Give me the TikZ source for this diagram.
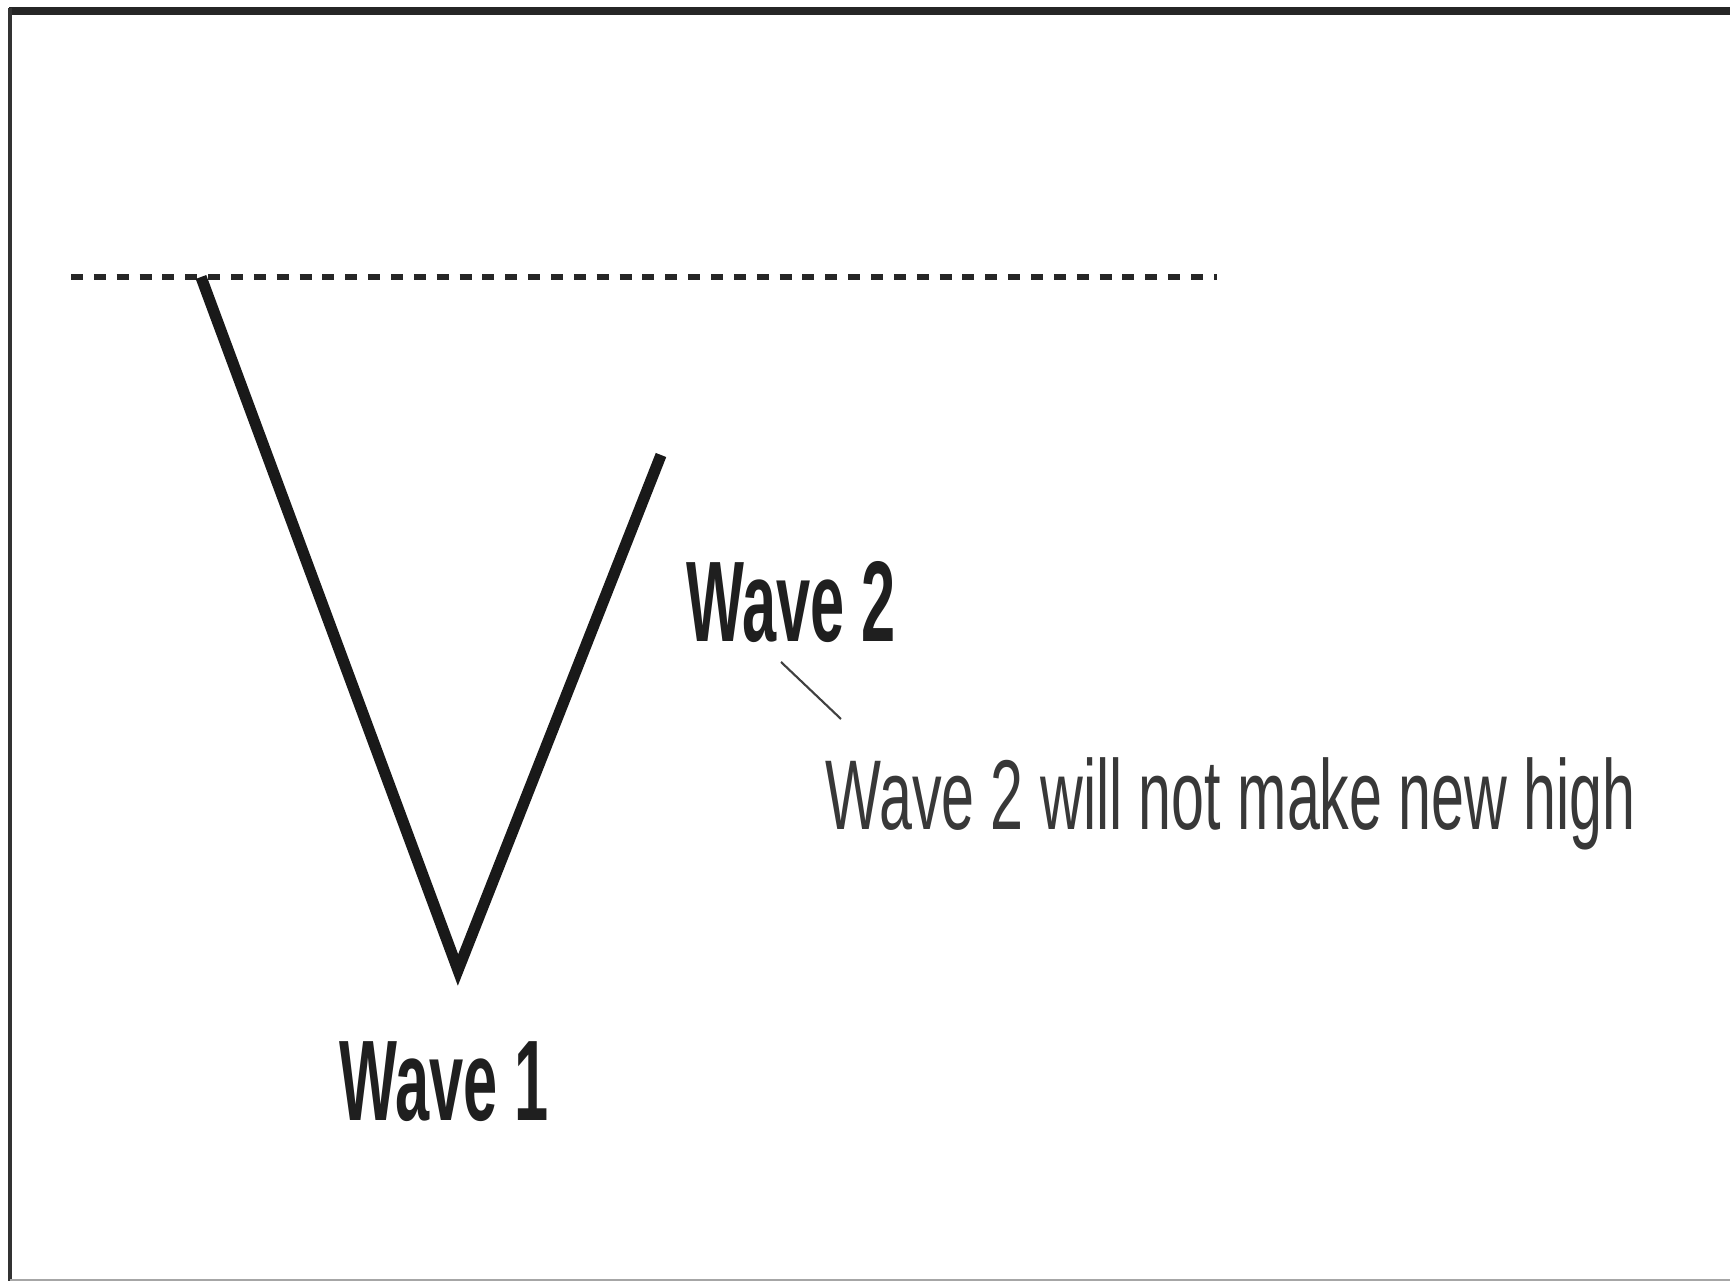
\documentclass[tikz,border=0pt]{standalone}
\usepackage{fontspec}
\setmainfont{Liberation Sans}
\tikzset{
  boldlabel/.style={font=\fontsize{32.6pt}{36pt}\selectfont\bfseries, xscale=0.535, inner sep=0pt, text=black!88},
  notelabel/.style={font=\fontsize{28.2pt}{32pt}\selectfont, xscale=0.597, inner sep=0pt, text=black!78},
  waveline/.style={line width=3.2pt, black!90, line join=miter},
  levelline/.style={line width=1.9pt, black!85, dash pattern=on 3.4pt off 3.1pt},
  leader/.style={line width=0.6pt, black!75}
}
\begin{document}
\begin{tikzpicture}[x=0.01cm,y=-0.01cm]
\useasboundingbox (0,0) rectangle (1730,1283);
\fill[white] (0,0) rectangle (1730,1283);
% frame
\draw[line width=2.1pt, black!85] (9,11) -- (1730,11);
\draw[line width=1.1pt, black!80] (10,8) -- (10,1281);
\draw[line width=0.8pt, black!35] (10,1280) -- (1730,1280);
% level line
\coordinate (dl) at (71,277);
\coordinate (dr) at (1217,277);
\draw[levelline] (dl) -- (dr);
% wave
\coordinate (top) at (201,277);
\coordinate (bot) at (458,970);
\coordinate (end) at (661,455);
\draw[waveline] (top) -- (bot) -- (end);
% labels
\node[boldlabel, anchor=base west] (w2) at (686,642) {Wave 2};
\node[notelabel, anchor=base west] (note) at (825,830) {Wave 2 will not make new high};
\node[boldlabel, anchor=base west] (w1) at (339,1120) {Wave 1};
\coordinate (la) at (781,662);
\coordinate (lb) at (841,719);
\draw[leader] (la) -- (lb);
\end{tikzpicture}
\end{document}
